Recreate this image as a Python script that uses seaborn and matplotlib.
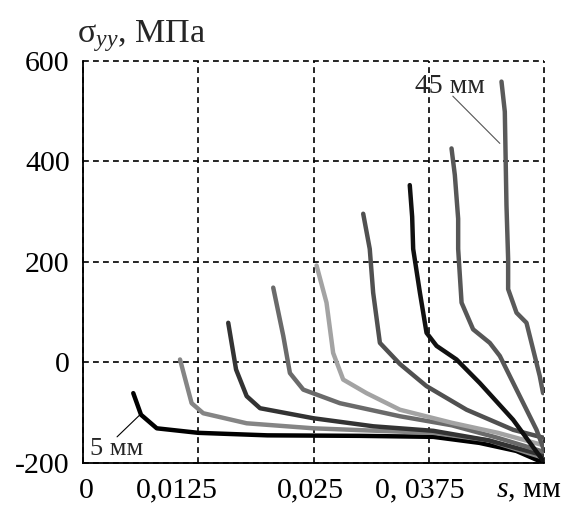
import matplotlib
matplotlib.use('Agg')
import matplotlib.pyplot as plt
import matplotlib.transforms as mtransforms
import seaborn as sns
import pandas as pd

# curves: s (mm) vs sigma_yy (MPa), one pair per depth
s_05 = [0.00545, 0.00629, 0.0080, 0.0125, 0.020, 0.030, 0.038, 0.043, 0.047, 0.050]
y_05 = [-61, -104, -131, -140, -145, -146, -148, -160, -176, -200]
s_10 = [0.01052, 0.01178, 0.01304, 0.01775, 0.025, 0.032, 0.038, 0.044, 0.050]
y_10 = [6, -81, -101, -121, -131, -136, -140, -155, -190]
s_15 = [0.01575, 0.0166, 0.01775, 0.0192, 0.025, 0.0315, 0.038, 0.044, 0.050]
y_15 = [79, -14, -67, -91, -111, -127, -136, -155, -185]
s_20 = [0.02063, 0.02172, 0.02244, 0.02389, 0.02786, 0.03437, 0.040, 0.045, 0.050]
y_20 = [149, 53, -21, -54, -81, -107, -125, -150, -178]
s_25 = [0.02533, 0.02641, 0.02713, 0.02822, 0.03075, 0.03437, 0.040, 0.045, 0.050]
y_25 = [193, 119, 19, -34, -61, -94, -120, -140, -165]
s_30 = [0.03039, 0.0311, 0.03147, 0.0322, 0.03437, 0.03725, 0.0416, 0.04666, 0.050]
y_30 = [296, 226, 139, 39, -3, -47, -94, -134, -150]
s_35 = [0.03544, 0.0357, 0.03581, 0.03654, 0.03726, 0.03835, 0.04051, 0.04304, 0.04665, 0.050]
y_35 = [353, 290, 226, 139, 59, 33, 6, -41, -114, -198]
s_40 = [0.03997, 0.04033, 0.04069, 0.04069, 0.04106, 0.04231, 0.04412, 0.04521, 0.04702, 0.04919, 0.050]
y_40 = [426, 373, 286, 226, 119, 66, 39, 13, -54, -134, -174]
s_45 = [0.04539, 0.04575, 0.04593, 0.04611, 0.04611, 0.04702, 0.0481, 0.04882, 0.04954, 0.0499]
y_45 = [559, 499, 313, 206, 146, 99, 79, 26, -27, -61]

depths = ['5', '10', '15', '20', '25', '30', '35', '40', '45']
curves = [(s_05, y_05), (s_10, y_10), (s_15, y_15), (s_20, y_20), (s_25, y_25),
          (s_30, y_30), (s_35, y_35), (s_40, y_40), (s_45, y_45)]
colors = ['#000000', '#858585', '#333333', '#6a6a6a', '#a3a3a3',
          '#505050', '#111111', '#575757', '#5a5a5a']

xticks = [0, 0.0125, 0.025, 0.0375, 0.05]
xticklabels = ['0', '0,0125', '0,025', '0, 0375', '$s$, мм']
yticks = [-200, 0, 200, 400, 600]

frames = []
for d, (s, y) in zip(depths, curves):
    frames.append(pd.DataFrame({'s': s, 'sigma': y, 'depth': d}))
df = pd.concat(frames, ignore_index=True)

sns.set_style('white')
plt.rcParams['font.family'] = ['Liberation Serif', 'DejaVu Serif']
plt.rcParams['mathtext.fontset'] = 'custom'
plt.rcParams['mathtext.rm'] = 'Liberation Serif'
plt.rcParams['mathtext.it'] = 'Liberation Serif:italic'
plt.rcParams['axes.unicode_minus'] = False

fig = plt.figure(figsize=(5.71, 5.09), dpi=100)
ax = fig.add_axes([0.1454, 0.0904, 0.8073, 0.7898])

sns.lineplot(data=df, x='s', y='sigma', hue='depth', palette=colors, sort=False,
             estimator=None, units='depth', linewidth=3.2, legend=False, ax=ax)

ax.set_xlim(0, 0.05)
ax.set_ylim(-200, 600)
ax.set_xticks(xticks, xticklabels)
ax.set_yticks(yticks)
ax.set_xlabel('')
ax.set_ylabel('')
ax.grid(True, color='black', linestyle=(0, (3.5, 2.5)), linewidth=1.2)
ax.set_axisbelow(True)
for g in ax.get_xgridlines() + ax.get_ygridlines():
    g.set_clip_on(False)
for side in ['top', 'right']:
    ax.spines[side].set_visible(False)
for side in ['left', 'bottom']:
    ax.spines[side].set_color('black')
    ax.spines[side].set_linewidth(1.3)
ax.tick_params(direction='inout', length=13, width=1.2, labelsize=21.5,
               colors='black')
ax.tick_params(axis='x', pad=4)
ax.tick_params(axis='y', pad=3)

# the original labels sit a bit left of their ticks
shifts_px = [3, -21, -3, -9, -15]
for lab, dx in zip(ax.get_xticklabels(), shifts_px):
    lab.set_transform(lab.get_transform() +
                      mtransforms.ScaledTranslation(dx / 100, 0, fig.dpi_scale_trans))

# annotations
ax.annotate('', xy=(0.00618, -104), xytext=(0.00369, -148),
            arrowprops=dict(arrowstyle='-', color='black', lw=0.8, shrinkA=0, shrinkB=0))
ax.text(0.0008, -184, '5 мм', fontsize=19, va='baseline', ha='left')
ax.annotate('', xy=(0.04521, 436), xytext=(0.04011, 530),
            arrowprops=dict(arrowstyle='-', color='#555555', lw=0.8, shrinkA=0, shrinkB=0))
ax.text(0.0360, 536, '45 мм', fontsize=20, va='baseline', ha='left')

fig.text(0.135, 0.9175, 'σ$_{yy}$, МПа', fontsize=24.5, va='baseline', ha='left')

fig.savefig('out.png', dpi=100)
